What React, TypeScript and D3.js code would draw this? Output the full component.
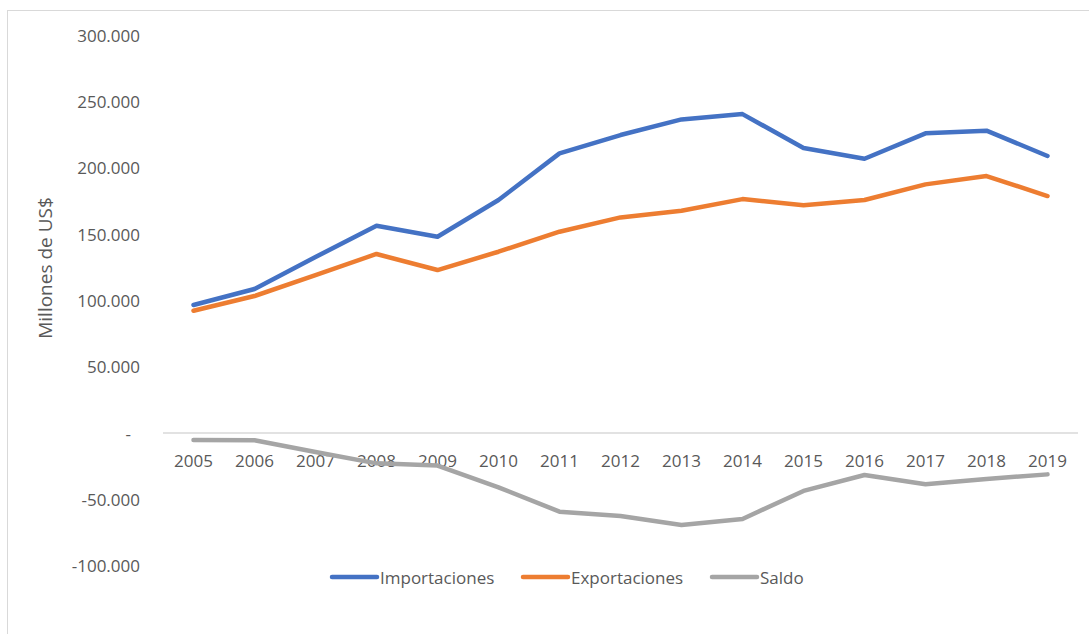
import React from 'react';
import * as d3 from 'd3';

// Data (millones de US$)
const years = ['2005', '2006', '2007', '2008', '2009', '2010', '2011', '2012', '2013', '2014', '2015', '2016', '2017', '2018', '2019'];
const importaciones = [96500, 108600, 132700, 156300, 148000, 175700, 210900, 224700, 236500, 240500, 214900, 206800, 226000, 228000, 208900];
const exportaciones = [92200, 103300, 119000, 135000, 122900, 136700, 151800, 162600, 167600, 176400, 171700, 175700, 187500, 193800, 178700];
const saldo = [-5300, -5500, -14300, -22900, -24600, -41000, -59300, -62600, -69400, -64800, -43700, -31700, -38700, -34700, -31200];
const yTicks = [-100000, -50000, 0, 50000, 100000, 150000, 200000, 250000, 300000];

const series = [
  { name: 'Importaciones', values: importaciones, color: '#4472C4' },
  { name: 'Exportaciones', values: exportaciones, color: '#ED7D31' },
  { name: 'Saldo', values: saldo, color: '#A5A5A5' },
];

const width = 1089;
const height = 634;
const font = "'Open Sans', 'Noto Sans', sans-serif";
const textColor = '#595959';

const locale = d3.formatLocale({ decimal: ',', thousands: '.', grouping: [3], currency: ['', '$'], minus: '-' });
const fmt = locale.format(',.0f');

export default function App() {
  const x = d3.scaleBand().domain(years).range([163, 1078]);
  const y = d3.scaleLinear().domain([-100000, 300000]).range([565.6, 35.2]);
  const cx = (d: string) => (x(d) as number) + x.bandwidth() / 2;

  const line = d3
    .line<number>()
    .x((_, i) => cx(years[i]))
    .y((d) => y(d));

  // legend layout
  const legendX = [332, 523, 712];
  const legendY = 577;

  return (
    <svg
      width={width}
      height={height}
      style={{ position: 'absolute', left: 0, top: 0, display: 'block', background: '#fff' }}
      fontFamily={font}
    >
      <rect x={7.5} y={10.5} width={1200} height={800} fill="#fff" stroke="#D9D9D9" strokeWidth={1} />

      {/* y axis labels */}
      {yTicks.map((t) => (
        <text
          key={t}
          x={t === 0 ? 131 : 140}
          y={y(t)}
          textAnchor="end"
          dominantBaseline="central"
          fontSize={17}
          fill={textColor}
        >
          {t === 0 ? '-' : fmt(t)}
        </text>
      ))}

      <text
        transform={`translate(45, 268) rotate(-90)`}
        textAnchor="middle"
        dominantBaseline="central"
        fontSize={19}
        fill={textColor}
      >
        Millones de US$
      </text>

      {/* zero line */}
      <line x1={163} x2={1078} y1={y(0)} y2={y(0)} stroke="#D9D9D9" strokeWidth={1.5} />

      {/* x labels */}
      {years.map((yr) => (
        <text key={yr} x={cx(yr)} y={460} textAnchor="middle" dominantBaseline="central" fontSize={17} fill={textColor}>
          {yr}
        </text>
      ))}

      {/* lines */}
      {series.map((s) => (
        <path
          key={s.name}
          d={line(s.values) as string}
          fill="none"
          stroke={s.color}
          strokeWidth={4.5}
          strokeLinecap="round"
          strokeLinejoin="round"
        />
      ))}

      {/* legend */}
      {series.map((s, i) => (
        <g key={s.name} transform={`translate(${legendX[i]}, ${legendY})`}>
          <line x1={0} x2={45} y1={0} y2={0} stroke={s.color} strokeWidth={4.5} strokeLinecap="round" />
          <text x={48} y={0} dominantBaseline="central" fontSize={17} fill={textColor}>
            {s.name}
          </text>
        </g>
      ))}
    </svg>
  );
}
